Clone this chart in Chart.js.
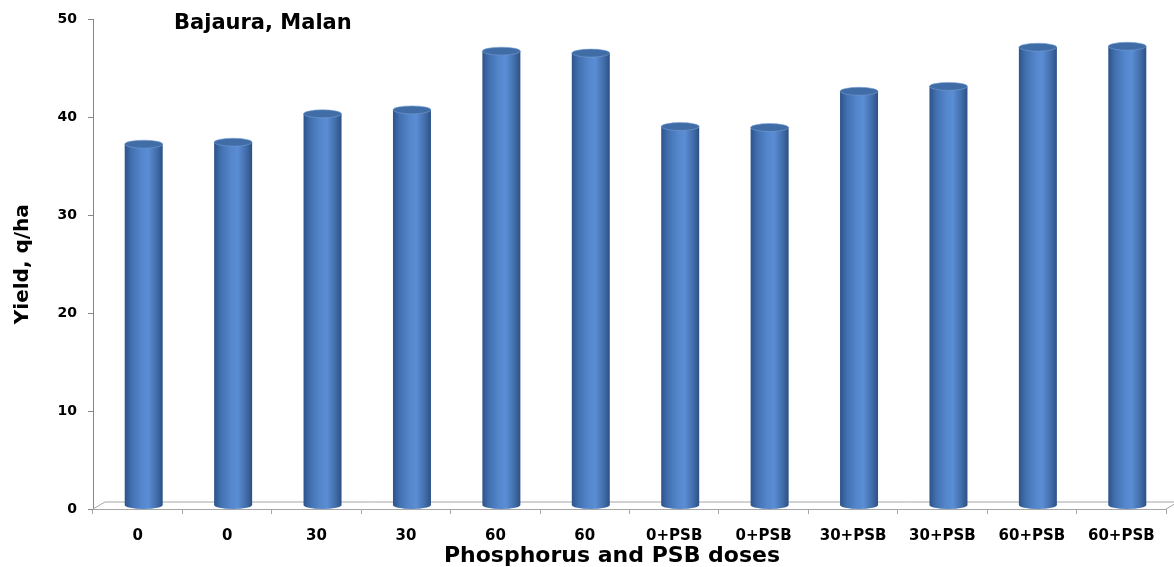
<!DOCTYPE html>
<html>
<head>
<meta charset="utf-8">
<script src="https://cdn.jsdelivr.net/npm/chart.js@4.4.1/dist/chart.umd.min.js"></script>
<style>
  html, body { margin: 0; padding: 0; background: #fff; }
  #wrap { width: 1174px; height: 567px; position: relative; }
</style>
</head>
<body>
<div id="wrap"><canvas id="yieldChart"></canvas></div>
<script>
// dados
const doses = ['0', '0', '30', '30', '60', '60', '0+PSB', '0+PSB', '30+PSB', '30+PSB', '60+PSB', '60+PSB'];
const yields = [36.9, 37.1, 40.0, 40.4, 46.4, 46.2, 38.7, 38.6, 42.3, 42.8, 46.8, 46.9];
const yTicks = [0, 10, 20, 30, 40, 50];

const FONT = "'DejaVu Sans', Arial, sans-serif";
const DEPTH_X = 6, DEPTH_Y = -3.5; // deslocamento 3D das barras

function barGradient(chart, x, w) {
    const g = chart.ctx.createLinearGradient(x - w / 2, 0, x + w / 2, 0);
    g.addColorStop(0, '#2d538a');
    g.addColorStop(0.18, '#4271b0');
    g.addColorStop(0.45, '#5587cd');
    g.addColorStop(0.62, '#5a8dd4');
    g.addColorStop(0.85, '#416ca8');
    g.addColorStop(1, '#2c5085');
    return g;
}

// piso 3D, título interno e título do eixo x
const floorPlugin = {
    id: 'floor',
    beforeDatasetsDraw(chart) {
        const { ctx, chartArea } = chart;
        const y0 = chart.scales.y.getPixelForValue(0);
        ctx.save();
        ctx.strokeStyle = '#a6a6a6';
        ctx.lineWidth = 1;
        ctx.beginPath();
        ctx.moveTo(chartArea.left, y0);
        ctx.lineTo(chartArea.left + 2 * DEPTH_X, y0 + 2 * DEPTH_Y);
        ctx.lineTo(chartArea.right + 2 * DEPTH_X, y0 + 2 * DEPTH_Y);
        ctx.lineTo(chartArea.right, y0);
        ctx.stroke();
        ctx.restore();
    },
    afterDraw(chart) {
        const ctx = chart.ctx;
        ctx.save();
        ctx.fillStyle = '#000';
        ctx.textBaseline = 'middle';
        ctx.font = 'bold 21px ' + FONT;
        ctx.fillText('Bajaura, Malan', 174, 24);
        ctx.font = 'bold 22px ' + FONT;
        ctx.textAlign = 'center';
        ctx.fillText('Phosphorus and PSB doses', 612, 556);
        ctx.restore();
    }
};

// cilindros: desloca as barras e desenha as tampas
const cylinderPlugin = {
    id: 'cylinder',
    beforeDatasetsDraw(chart) {
        chart.ctx.save();
        chart.ctx.translate(DEPTH_X, DEPTH_Y);
    },
    afterDatasetsDraw(chart) {
        const ctx = chart.ctx;
        const meta = chart.getDatasetMeta(0);
        meta.data.forEach(bar => {
            const w = bar.width, rx = w / 2, ry = 4;
            // fundo arredondado
            ctx.beginPath();
            ctx.ellipse(bar.x, bar.base, rx, ry, 0, 0, Math.PI);
            ctx.fillStyle = barGradient(chart, bar.x, w);
            ctx.fill();
            // tampa
            ctx.beginPath();
            ctx.ellipse(bar.x, bar.y, rx, ry, 0, 0, Math.PI * 2);
            ctx.fillStyle = '#416da7';
            ctx.fill();
            ctx.strokeStyle = 'rgba(120,160,215,0.7)';
            ctx.lineWidth = 0.8;
            ctx.stroke();
        });
        ctx.restore();
    }
};

const ctx = document.getElementById('yieldChart').getContext('2d');
const yieldChart = new Chart(ctx, {
    type: 'bar',
    data: {
        labels: doses,
        datasets: [{
            label: 'Yield',
            data: yields,
            backgroundColor: c => {
                const chart = c.chart;
                if (!chart.chartArea) return '#4a7cc0';
                const xs = chart.scales.x;
                const x = xs.getPixelForValue(c.dataIndex);
                const w = (xs.width / doses.length) * 0.5 * 0.85;
                return barGradient(chart, x, w);
            },
            borderWidth: 0,
            categoryPercentage: 0.5,
            barPercentage: 0.85
        }]
    },
    plugins: [floorPlugin, cylinderPlugin],
    options: {
        responsive: true,
        maintainAspectRatio: false,
        animation: false,
        layout: { padding: { top: 17, right: 8, left: 0, bottom: 0 } },
        plugins: {
            legend: { display: false },
            tooltip: { enabled: false }
        },
        scales: {
            y: {
                min: 0,
                max: 50,
                afterBuildTicks: s => { s.ticks = yTicks.map(v => ({ value: v })); },
                afterFit: s => { s.width = 93; },
                border: { display: true, color: '#868686', width: 1 },
                grid: { drawOnChartArea: false, tickLength: 5, color: '#868686' },
                ticks: {
                    padding: 11,
                    color: '#000',
                    font: { family: FONT, size: 14, weight: 'bold' }
                },
                title: {
                    display: true,
                    text: 'Yield, q/ha',
                    color: '#000',
                    padding: { top: 11, bottom: 0 },
                    font: { family: FONT, size: 20, weight: 'bold' }
                }
            },
            x: {
                afterFit: s => { s.height = 58; },
                border: { display: true, color: '#a6a6a6', width: 1 },
                grid: { drawOnChartArea: false, tickLength: 5, color: '#a6a6a6', offset: true },
                ticks: {
                    padding: 13,
                    color: '#000',
                    maxRotation: 0,
                    autoSkip: false,
                    font: { family: FONT, size: 15, weight: 'bold' }
                }
            }
        }
    }
});
</script>
</body>
</html>
